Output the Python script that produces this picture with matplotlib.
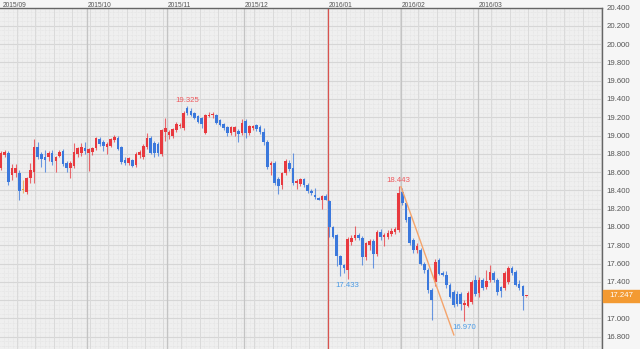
import matplotlib
matplotlib.use("Agg")
import matplotlib.pyplot as plt
import matplotlib.transforms as mtransforms
from matplotlib.patches import Rectangle
import numpy as np

plt.rcParams['font.family'] = ['Liberation Sans', 'DejaVu Sans']

# ---------------- data ----------------
opens = [18.65, 18.79, 18.81, 18.57, 18.59, 18.59, 18.40, 18.38, 18.54, 18.60,
         18.88, 18.80, 18.76, 18.76, 18.81, 18.72, 18.78, 18.83, 18.70, 18.65,
         18.67, 18.80, 18.81, 18.86, 18.81, 18.82, 18.86, 18.96, 18.93, 18.88,
         18.89, 18.95, 18.97, 18.87, 18.73, 18.70, 18.73, 18.68, 18.79, 18.77,
         18.87, 18.97, 18.92, 18.91, 18.80, 19.04, 19.01, 18.99, 19.06, 19.10,
         19.08, 19.30, 19.27, 19.245, 19.21, 19.19, 19.03, 19.21, 19.22, 19.23,
         19.17, 19.13, 19.09, 19.03, 19.04, 19.05, 19.03, 19.16, 19.03, 19.08,
         19.11, 19.09, 19.04, 18.93, 18.68, 18.70, 18.53, 18.46, 18.59, 18.70,
         18.64, 18.48, 18.47, 18.52, 18.46, 18.39, 18.35, 18.32, 18.30, 18.34,
         18.28, 18.00, 17.91, 17.68, 17.58, 17.53, 17.84, 17.88, 17.91, 17.88,
         17.67, 17.80, 17.85, 17.70, 17.95, 17.89, 17.89, 17.92, 17.94, 17.97,
         18.38, 18.26, 18.11, 17.86, 17.75, 17.75, 17.60, 17.53, 17.31, 17.40,
         17.64, 17.50, 17.48, 17.37, 17.29, 17.27, 17.27, 17.15, 17.14, 17.18,
         17.42, 17.28, 17.42, 17.34, 17.42, 17.50, 17.42, 17.34, 17.33, 17.40,
         17.55, 17.51, 17.38, 17.35, 17.245]
highs = [18.83, 18.84, 18.83, 18.69, 18.69, 18.62, 18.51, 18.55, 18.70, 18.96,
         18.93, 18.82, 18.84, 18.83, 18.84, 18.78, 18.84, 18.85, 18.72, 18.72,
         18.92, 18.87, 18.92, 18.93, 18.86, 18.87, 18.98, 18.98, 18.95, 18.93,
         18.97, 19.01, 18.99, 18.89, 18.76, 18.77, 18.74, 18.82, 18.84, 18.91,
         19.03, 18.99, 18.94, 18.93, 19.07, 19.19, 19.06, 19.08, 19.15, 19.14,
         19.27, 19.325, 19.30, 19.26, 19.23, 19.20, 19.24, 19.26, 19.26, 19.24,
         19.18, 19.14, 19.10, 19.10, 19.10, 19.07, 19.18, 19.18, 19.11, 19.12,
         19.13, 19.11, 19.08, 18.95, 18.72, 18.72, 18.55, 18.60, 18.74, 18.73,
         18.81, 18.52, 18.54, 18.54, 18.48, 18.42, 18.43, 18.33, 18.35, 18.36,
         18.30, 18.01, 17.92, 17.69, 17.60, 17.89, 17.91, 18.01, 17.93, 17.90,
         17.84, 17.87, 17.87, 17.97, 17.98, 17.93, 17.97, 17.99, 18.00, 18.443,
         18.43, 18.28, 18.12, 17.88, 17.82, 17.77, 17.62, 17.55, 17.33, 17.65,
         17.66, 17.52, 17.52, 17.39, 17.31, 17.30, 17.29, 17.20, 17.30, 17.42,
         17.48, 17.45, 17.44, 17.53, 17.58, 17.52, 17.44, 17.36, 17.52, 17.57,
         17.57, 17.53, 17.42, 17.37, 17.25]
lows = [18.62, 18.76, 18.46, 18.51, 18.55, 18.30, 18.37, 18.36, 18.48, 18.48,
        18.74, 18.66, 18.60, 18.72, 18.68, 18.60, 18.76, 18.67, 18.60, 18.54,
        18.64, 18.76, 18.78, 18.80, 18.61, 18.79, 18.84, 18.89, 18.83, 18.80,
        18.87, 18.93, 18.84, 18.69, 18.68, 18.68, 18.66, 18.66, 18.75, 18.74,
        18.85, 18.80, 18.77, 18.78, 18.78, 18.94, 18.96, 18.97, 19.04, 19.08,
        19.06, 19.23, 19.21, 19.18, 19.14, 19.08, 19.02, 19.20, 19.19, 19.13,
        19.10, 19.06, 18.99, 19.01, 18.99, 18.93, 19.01, 18.97, 19.01, 19.06,
        19.05, 19.02, 18.90, 18.63, 18.57, 18.46, 18.36, 18.42, 18.57, 18.61,
        18.46, 18.42, 18.45, 18.44, 18.37, 18.35, 18.31, 18.29, 18.20, 18.29,
        17.89, 17.88, 17.57, 17.46, 17.50, 17.433, 17.80, 17.86, 17.86, 17.58,
        17.64, 17.75, 17.55, 17.68, 17.86, 17.79, 17.87, 17.90, 17.92, 17.95,
        18.24, 18.05, 17.80, 17.72, 17.72, 17.58, 17.50, 17.28, 16.98, 17.36,
        17.47, 17.46, 17.33, 17.22, 17.13, 17.14, 17.09, 16.97, 17.12, 17.16,
        17.25, 17.24, 17.31, 17.32, 17.40, 17.40, 17.26, 17.24, 17.31, 17.38,
        17.48, 17.35, 17.31, 17.09, 17.24]
closes = [18.81, 18.82, 18.49, 18.64, 18.65, 18.39, 18.40, 18.54, 18.62, 18.87,
          18.76, 18.74, 18.73, 18.81, 18.71, 18.76, 18.82, 18.69, 18.65, 18.70,
          18.82, 18.86, 18.87, 18.83, 18.85, 18.86, 18.97, 18.91, 18.89, 18.91,
          18.96, 18.98, 18.85, 18.71, 18.70, 18.75, 18.67, 18.80, 18.82, 18.89,
          18.97, 18.81, 18.81, 18.81, 19.06, 19.08, 19.04, 19.07, 19.13, 19.12,
          19.25, 19.245, 19.22, 19.19, 19.15, 19.13, 19.23, 19.23, 19.23, 19.14,
          19.11, 19.08, 19.03, 19.09, 19.09, 19.02, 19.14, 19.03, 19.10, 19.10,
          19.07, 19.04, 18.93, 18.66, 18.70, 18.48, 18.45, 18.59, 18.72, 18.63,
          18.48, 18.50, 18.53, 18.46, 18.39, 18.37, 18.33, 18.30, 18.34, 18.30,
          18.00, 17.89, 17.68, 17.58, 17.55, 17.87, 17.88, 17.91, 17.88, 17.67,
          17.82, 17.85, 17.71, 17.95, 17.89, 17.91, 17.93, 17.96, 17.98, 18.37,
          18.26, 18.08, 17.82, 17.75, 17.79, 17.60, 17.53, 17.31, 17.20, 17.62,
          17.49, 17.48, 17.37, 17.24, 17.15, 17.16, 17.16, 17.17, 17.28, 17.40,
          17.27, 17.42, 17.33, 17.41, 17.51, 17.42, 17.29, 17.30, 17.50, 17.55,
          17.50, 17.37, 17.33, 17.25, 17.247]

month_labels = ['2015/09', '2015/10', '2015/11', '2015/12', '2016/01', '2016/02', '2016/03']
month_first_idx = [0, 24, 46, 67, 90, 110, 131]
y_ticks = [20.4, 20.2, 20.0, 19.8, 19.6, 19.4, 19.2, 19.0, 18.8, 18.6,
           18.4, 18.2, 18.0, 17.8, 17.6, 17.4, 17.2, 17.0, 16.8]
extreme_idx = [51, 109, 95, 127]
extreme_val = [19.325, 18.443, 17.433, 16.970]
extreme_kind = ['high', 'high', 'low', 'low']
trend_x = [109.6, 124.1]
trend_y = [18.44, 16.82]
last_price = 17.247

# ---------------- figure ----------------
W, H = 640, 349
fig = plt.figure(figsize=(W / 100, H / 100), dpi=100, facecolor='#f6f6f6')
top_px = 7.5
right_px = 602
ax = fig.add_axes([0, 0, right_px / W, (H - top_px) / H])
ax.set_facecolor('#efefef')

n = len(closes)
x = np.arange(n)
o = np.array(opens); c = np.array(closes); hi = np.array(highs); lo = np.array(lows)

ax.set_xlim(-0.3, 164.7)
ax.set_ylim(16.666, 20.40)

# grid: minor
for yv in np.arange(16.65, 20.41, 0.05):
    ax.axhline(yv, color='#e2e2e2', lw=0.5, ls=(0, (1, 1)), zorder=0)
for xv in np.arange(-0.5, 165, 1.25):
    ax.axvline(xv, color='#e2e2e2', lw=0.5, ls=(0, (1, 1)), zorder=0)
# grid: major horizontal
for yv in y_ticks:
    ax.axhline(yv, color='#d6d6d6', lw=0.8, zorder=0.5)
# weekly vertical lines
for xv in np.arange(-0.6, 165, 5):
    ax.axvline(xv, color='#dadada', lw=0.7, zorder=0.5)
# month lines
for lab, mi in zip(month_labels, month_first_idx):
    xm = mi - 0.4
    if lab == '2016/01':
        ax.axvline(xm, color='#d9534f', lw=0.9, zorder=0.6)
    elif mi > 0:
        ax.axvline(xm, color='#c4c4c4', lw=0.9, zorder=0.6)

up_col = '#e8393f'
dn_col = '#3b78dc'
doji_col = '#e8a23a'
colors = []
for oo, cc in zip(o, c):
    if cc > oo:
        colors.append(up_col)
    elif cc < oo:
        colors.append(dn_col)
    else:
        colors.append(doji_col)

ax.vlines(x, lo, hi, colors=colors, lw=0.8, zorder=2, alpha=0.75)
body_bottom = np.minimum(o, c)
body_h = np.maximum(np.abs(c - o), 0.012)
ax.bar(x, body_h, bottom=body_bottom, width=0.72, color=colors, lw=0, zorder=3)

# trendline
ax.plot(trend_x, trend_y, color='#f4a46c', lw=1.0, zorder=4)

# extreme labels
for xi, v, k in zip(extreme_idx, extreme_val, extreme_kind):
    if k == 'high':
        ax.annotate(f'{v:.3f}', (xi, v), xytext=(0, 1.5), textcoords='offset points',
                    ha='center', va='bottom', fontsize=5.6, color='#ee5a5f', zorder=5)
    else:
        ax.annotate(f'{v:.3f}', (xi, v), xytext=(0, -2), textcoords='offset points',
                    ha='center', va='top', fontsize=5.6, color='#4b9be6', zorder=5)

# axes styling
for s in ['left', 'bottom']:
    ax.spines[s].set_visible(False)
ax.spines['right'].set_color('#666666')
ax.spines['top'].set_color('#666666')
ax.spines['right'].set_linewidth(1.0)
ax.spines['top'].set_linewidth(1.0)
ax.set_xticks([])
ax.yaxis.tick_right()
ax.set_yticks(y_ticks)
ax.set_yticklabels([f'{v:.3f}' for v in y_ticks])
ax.tick_params(axis='y', length=0, pad=3, labelsize=5.6, labelcolor='#555555')

# month labels on top strip
trans_top = mtransforms.blended_transform_factory(ax.transData, fig.transFigure)
for lab, mi in zip(month_labels, month_first_idx):
    xm = mi - 0.4 if mi > 0 else 0.2
    fig.text(0, 0, lab, transform=trans_top, fontsize=4.8, color='#555555')
    fig.texts[-1].set_position((xm + 0.2, 1 - 5.3 / H))
    fig.texts[-1].set_va('center')

# current price box
trans_r = mtransforms.blended_transform_factory(fig.transFigure, ax.transData)
box_h = 12 / 91.5
ax.add_patch(Rectangle((right_px / W + 0.6 / W, last_price - box_h / 2), 1 - right_px / W, box_h,
                       transform=trans_r, color='#f39a32', clip_on=False, zorder=6))
ax.text((right_px + 19.5) / W, last_price, f'{last_price:.3f}', transform=trans_r,
        ha='center', va='center', fontsize=5.6, color='white', zorder=7, clip_on=False)

fig.savefig('out.png', dpi=100, facecolor=fig.get_facecolor())
